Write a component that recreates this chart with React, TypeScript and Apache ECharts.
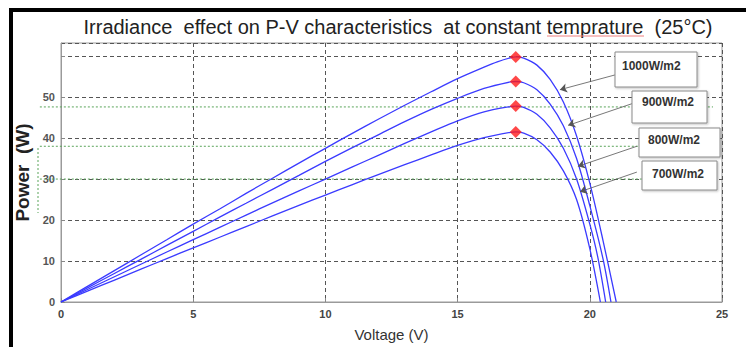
import React, { useEffect, useRef } from "react";
import * as echarts from "echarts";

// ---- data ----
const titleText = "Irradiance  effect on P-V characteristics  at constant temprature  (25°C)";
const xTickValues = [0, 5, 10, 15, 20, 25];
const yTickValues = [0, 10, 20, 30, 40, 50];

const v1000 = [0, 1, 2, 3, 4, 5, 6, 7, 8, 9, 10, 11, 12, 13, 14, 15, 16, 16.5, 17, 17.2, 17.5, 18, 18.5, 19, 19.5, 20, 20.5, 21];
const p1000 = [0, 3.8, 7.6, 11.4, 15.2, 19, 22.7, 26.5, 30.2, 33.9, 37.5, 41.1, 44.6, 48, 51.3, 54.5, 57.3, 58.6, 59.6, 59.8, 59.5, 57.8, 54.3, 48.8, 40.5, 29, 15, 0];

const v900 = [0, 1, 2, 3, 4, 5, 6, 7, 8, 9, 10, 11, 12, 13, 14, 15, 16, 17, 17.2, 17.5, 18, 18.5, 19, 19.5, 20, 20.5, 20.8];
const p900 = [0, 3.45, 6.9, 10.35, 13.8, 17.25, 20.7, 24.1, 27.5, 30.9, 34.3, 37.6, 40.8, 44, 47, 49.7, 52.1, 53.7, 53.8, 53.5, 51.8, 48.3, 43, 35, 23.5, 10.5, 0];

const v800 = [0, 1, 2, 3, 4, 5, 6, 7, 8, 9, 10, 11, 12, 13, 14, 15, 16, 17, 17.2, 17.5, 18, 18.5, 19, 19.5, 20, 20.3, 20.6];
const p800 = [0, 3.05, 6.1, 9.15, 12.2, 15.2, 18.2, 21.2, 24.2, 27.1, 30, 32.9, 35.8, 38.7, 41.5, 44.2, 46.4, 47.7, 47.8, 47.5, 45.8, 42.5, 37.5, 30, 19, 11, 0];

const v700 = [0, 1, 2, 3, 4, 5, 6, 7, 8, 9, 10, 11, 12, 13, 14, 15, 16, 17, 17.2, 17.5, 18, 18.5, 19, 19.5, 20, 20.4];
const p700 = [0, 2.65, 5.3, 7.95, 10.6, 13.2, 15.8, 18.4, 21, 23.6, 26.1, 28.6, 31.1, 33.5, 35.9, 38.2, 40.1, 41.4, 41.5, 41.2, 39.6, 36.6, 32, 25, 13, 0];

const seriesNames = ["1000W/m2", "900W/m2", "800W/m2", "700W/m2"];
const peakV = [17.2, 17.2, 17.2, 17.2];
const peakP = [59.8, 53.8, 47.8, 41.5];

// annotation arrows: [startV, startP, endV, endP]
const arrowStartV = [20.95, 21.6, 21.78, 21.78];
const arrowStartP = [55.4, 48.4, 38.0, 31.7];
const arrowEndV = [18.87, 19.18, 19.55, 19.63];
const arrowEndP = [51.8, 43.1, 33.1, 26.9];

// green reference lines (power levels), spanning these voltages
const greenLevels = [47.6, 38.0, 30.0];
const greenFromV = -0.8;
const greenToV = 24.66;

const zip = (xs: number[], ys: number[]) => xs.map((x, i) => [x, ys[i]]);

export default function App() {
  const ref = useRef<HTMLDivElement>(null);
  useEffect(() => {
    if (!ref.current) return;
    const chart = echarts.init(ref.current, null, { renderer: "svg" });
    const curves = [zip(v1000, p1000), zip(v900, p900), zip(v800, p800), zip(v700, p700)];
    const blue = "#3b3bff";
    const lineSeries: any[] = curves.map((d, i) => ({
      name: seriesNames[i],
      type: "line",
      data: d,
      showSymbol: false,
      smooth: 0.3,
      lineStyle: { color: blue, width: 1.3 },
      z: 3,
    }));
    const peakSeries = {
      type: "scatter",
      data: zip(peakV, peakP),
      symbol: "diamond",
      symbolSize: 12,
      itemStyle: { color: "#ff1a1a" },
      z: 5,
    };
    const annotSeries = {
      type: "line",
      data: [],
      markLine: {
        silent: true,
        animation: false,
        symbol: ["none", "triangle"],
        symbolSize: [6, 7],
        label: { show: false },
        lineStyle: { color: "#555", width: 0.8, type: "solid" },
        data: arrowStartV.map((sv, i) => [
          { coord: [sv, arrowStartP[i]], symbol: "none" },
          { coord: [arrowEndV[i], arrowEndP[i]], symbol: "arrow", symbolSize: 7 },
        ]),
        itemStyle: { color: "#111" },
      },
      z: 4,
    };

    const boxes = [
      { x: 615, y: 52, w: 82, h: 35, tx: 622, ty: 66 },
      { x: 632, y: 91, w: 75, h: 32, tx: 642, ty: 102 },
      { x: 639, y: 128, w: 81, h: 29, tx: 648, ty: 140 },
      { x: 642, y: 161, w: 75, h: 29, tx: 652, ty: 174 },
    ];

    const staticGraphics: any[] = [
      { type: "rect", shape: { x: 9, y: 8, width: 737, height: 4 }, style: { fill: "#000" }, z: 100 },
      { type: "rect", shape: { x: 9, y: 8, width: 4, height: 339 }, style: { fill: "#000" }, z: 100 },
      { type: "line", shape: { x1: 547, y1: 36, x2: 644, y2: 36 }, style: { stroke: "#f08080", lineWidth: 1 }, z: 100 },
      { type: "line", shape: { x1: 38, y1: 148, x2: 38, y2: 213 }, style: { stroke: "#5aa55a", lineWidth: 1, lineDash: [2, 2] }, z: 100 },
      ...boxes.flatMap((b, i) => [
        {
          type: "rect",
          shape: { x: b.x, y: b.y, width: b.w, height: b.h },
          style: { fill: "#fff", stroke: "#8a8a8a", lineWidth: 1, shadowColor: "rgba(0,0,0,0.25)", shadowBlur: 2, shadowOffsetX: 1, shadowOffsetY: 1 },
          z: 50,
        },
        {
          type: "text",
          x: b.tx,
          y: b.ty,
          style: {
            text: seriesNames[i],
            fill: "#333",
            fontFamily: "Liberation Sans",
            fontSize: 12,
            fontWeight: "bold",
            textVerticalAlign: "middle",
          },
          z: 51,
        },
      ]),
    ];

    chart.setOption({
      animation: false,
      backgroundColor: "#fff",
      grid: {
        left: 61,
        top: 43,
        right: 24,
        bottom: 43,
        show: true,
        borderColor: "#9a9a9a",
        borderWidth: 1,
      },
      xAxis: {
        type: "value",
        min: 0,
        max: 25,
        interval: 5,
        name: "Voltage (V)",
        nameLocation: "middle",
        nameGap: 25,
        nameTextStyle: { fontFamily: "Liberation Sans", fontSize: 15, color: "#333" },
        axisLine: { show: true, lineStyle: { color: "#9a9a9a" } },
        axisTick: { show: true, inside: true, length: 4, lineStyle: { color: "#888" } },
        axisLabel: {
          fontFamily: "Liberation Sans",
          fontSize: 11,
          fontWeight: "bold",
          color: "#444",
          margin: 6,
          formatter: (v: number) => (xTickValues.includes(v) ? String(v) : ""),
        },
        splitLine: { show: true, lineStyle: { color: "#555", type: [4, 3], width: 1 } },
      },
      yAxis: {
        type: "value",
        min: 0,
        max: 63.2,
        interval: 10,
        name: "Power  (W)",
        nameLocation: "middle",
        nameGap: 23,
        nameTextStyle: { fontFamily: "Liberation Sans", fontSize: 19, fontWeight: "bold", color: "#222" },
        axisLine: { show: true, lineStyle: { color: "#9a9a9a" } },
        axisTick: { show: true, inside: true, length: 4, lineStyle: { color: "#888" } },
        axisLabel: {
          fontFamily: "Liberation Sans",
          fontSize: 11,
          fontWeight: "bold",
          color: "#555",
          margin: 6,
          showMaxLabel: false,
          formatter: (v: number) => (yTickValues.includes(v) ? String(v) : ""),
        },
        splitLine: { show: true, lineStyle: { color: "#555", type: [4, 3], width: 1 } },
      },
      title: {
        text: titleText,
        left: 393,
        textAlign: "center",
        top: 12,
        textStyle: { fontFamily: "Liberation Sans", fontSize: 20, fontWeight: "normal", color: "#222" },
      },
      graphic: staticGraphics,
      series: [...lineSeries, peakSeries, annotSeries],
    });

    // green reference lines positioned through the chart's own scales
    const greenGraphics = greenLevels.map((g) => {
      const a = chart.convertToPixel({ gridIndex: 0 }, [greenFromV, g]) as number[];
      const b = chart.convertToPixel({ gridIndex: 0 }, [greenToV, g]) as number[];
      return {
        type: "line",
        shape: { x1: a[0], y1: a[1], x2: b[0], y2: b[1] },
        style: { stroke: "#5aa55a", lineWidth: 1, lineDash: [2, 2] },
        z: 2,
        silent: true,
      };
    });
    chart.setOption({ graphic: [...staticGraphics, ...greenGraphics] }, { replaceMerge: ["graphic"] });

    return () => chart.dispose();
  }, []);
  return <div ref={ref} style={{ width: 746, height: 347, position: "absolute", left: 0, top: 0 }} />;
}
